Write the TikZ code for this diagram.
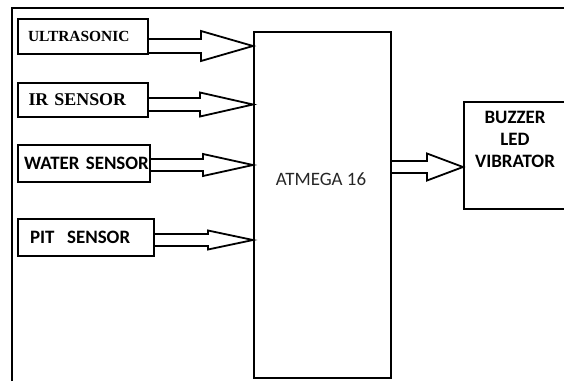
\documentclass[tikz,border=0pt]{standalone}
\usepackage{fontspec}
\usepackage{tikz}
\usetikzlibrary{calc,positioning}
\newfontfamily\tnrfont{Liberation Serif}
\newfontfamily\calfont{Carlito}
\tikzset{
  blk/.style={x=1bp, y=-1bp, line width=2bp},
  sensor/.style={draw, rectangle, anchor=north west, align=left, inner ysep=0pt, minimum height=35bp},
  unit/.style={draw, rectangle, anchor=north west, inner sep=0pt},
  fat/.style={line width=1.8bp, line join=miter},
  frame/.style={line width=2.5bp}
}
% hollow block arrow: start, target node, shaft half width, head half width, head length
\newcommand{\fatarrow}[5]{%
  \draw[fat] let \p1=#1, \p2=(#2.west) in
    (\x1,\y1+#3) -- (\x2-#5,\y1+#3) -- (\x2-#5,\y1+#4) -- (\x2,\y1)
    -- (\x2-#5,\y1-#4) -- (\x2-#5,\y1-#3) -- (\x1,\y1-#3);}

\begin{document}
\begin{tikzpicture}[blk]
\clip (0,0) rectangle (564,381);
\draw[frame] (12,381) -- (12,8) -- (564,8);
% sensors
\node[sensor, text width=110bp, inner xsep=10bp, font=\tnrfont\bfseries\fontsize{15.5}{18}\selectfont] (us) at (17,18) {ULTRASONIC};
\node[sensor, text width=109bp, inner xsep=10.5bp, minimum height=34bp, font=\tnrfont\bfseries\fontsize{18}{20}\selectfont] (ir) at (17,82) {IR SENSOR};
\node[sensor, text width=120bp, inner xsep=6bp, minimum height=37bp, font=\calfont\bfseries\fontsize{19}{22}\selectfont] (ws) at (17,144) {\mbox{WATER SENSOR}};
\node[sensor, text width=112bp, inner xsep=12bp, minimum height=37bp, font=\calfont\bfseries\fontsize{19}{22}\selectfont] (pit) at (17,218) {PIT\ \ SENSOR};
% controller and outputs
\node[unit, minimum width=137bp, minimum height=346bp] (mcu) at (253,31) {};
\node[font=\calfont\fontsize{19}{22}\selectfont, text=black!85] (mcutxt) at (321,179) {ATMEGA 16};
\node[unit, minimum width=200bp, minimum height=107bp] (out) at (463,101) {};
\node[font=\calfont\bfseries\fontsize{19}{22.5}\selectfont, align=center] (outtxt) at (515,139.5) {BUZZER\\LED\\VIBRATOR};
% arrows
\fatarrow{([yshift=-9.5bp]us.east)}{mcu}{7bp}{15bp}{52bp}
\fatarrow{([yshift=-4.5bp]ir.east)}{mcu}{6.5bp}{12bp}{53bp}
\fatarrow{([yshift=-1.5bp]ws.east)}{mcu}{6bp}{11bp}{50bp}
\fatarrow{([yshift=-2.5bp]pit.east)}{mcu}{6bp}{9.5bp}{45bp}
\fatarrow{([yshift=38bp]mcu.east)}{out}{6bp}{13.5bp}{36bp}
\end{tikzpicture}
\end{document}
